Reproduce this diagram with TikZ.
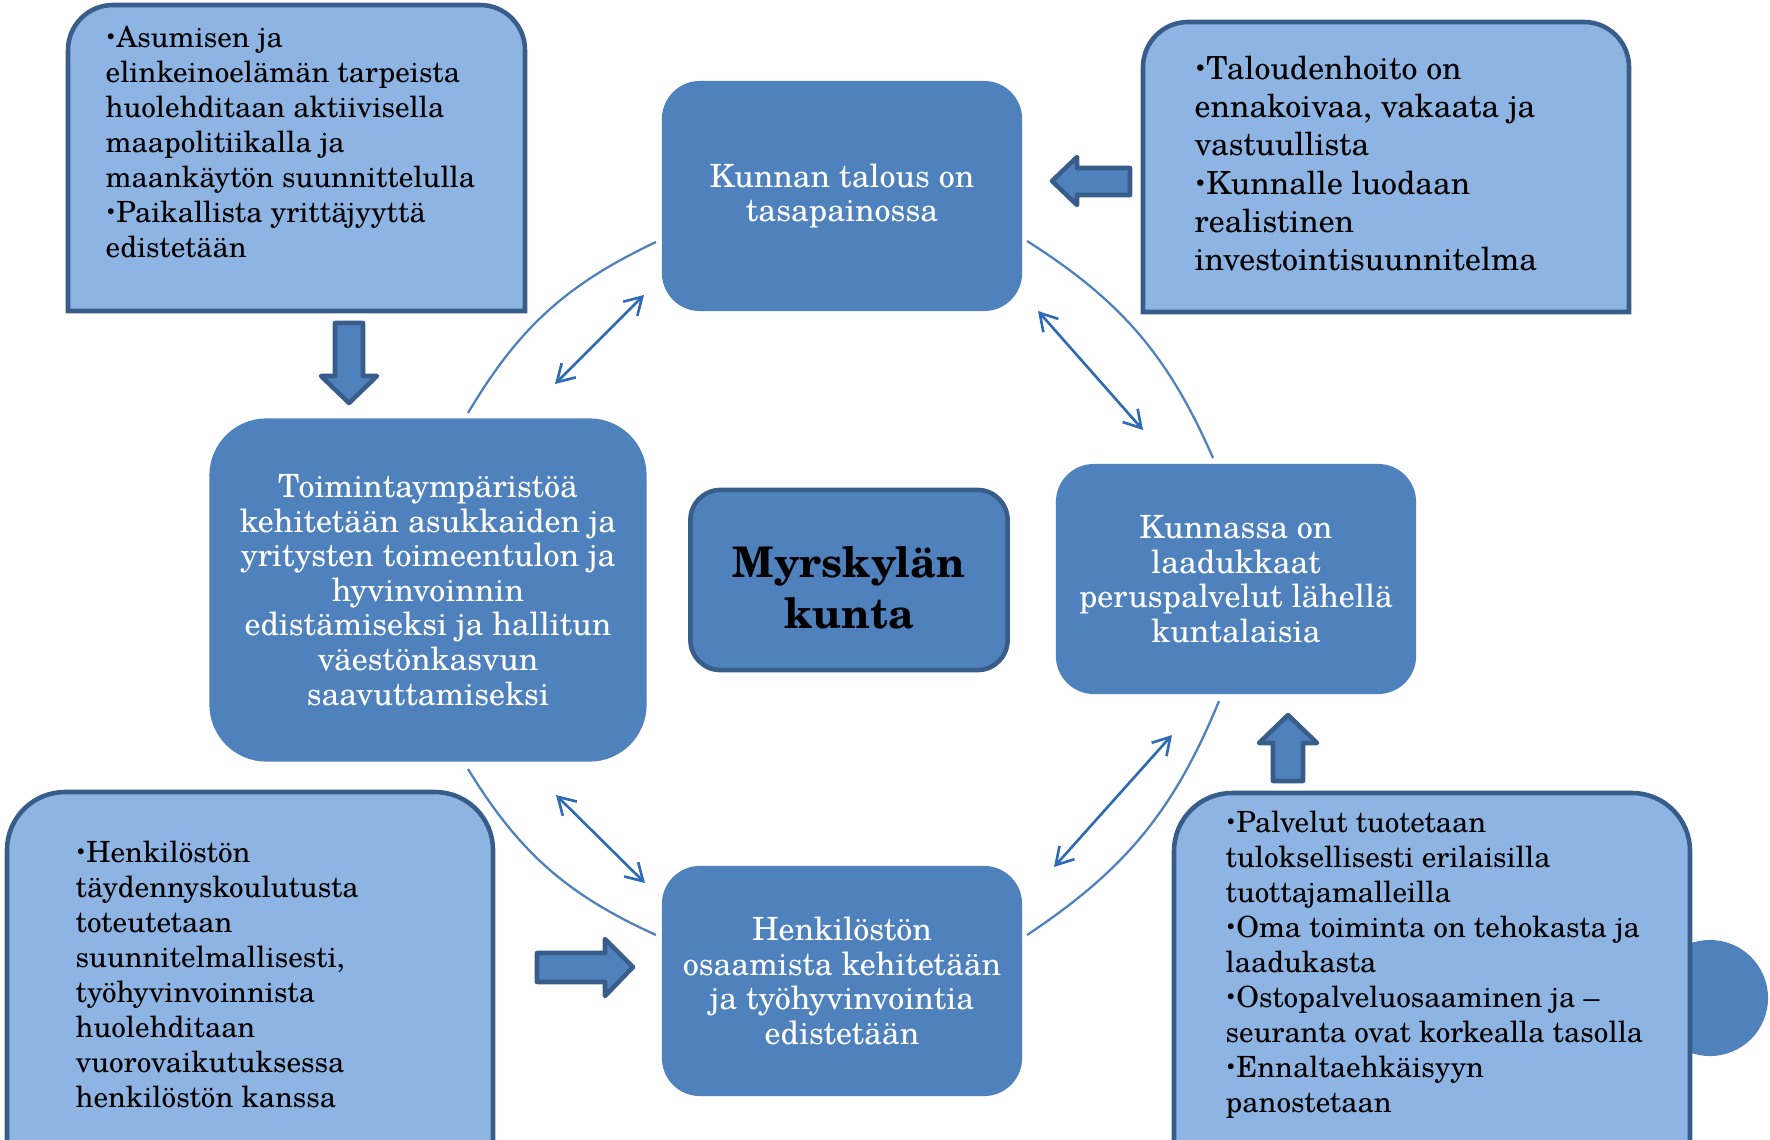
\documentclass[tikz,border=0pt]{standalone}
\usepackage{fontspec}
\usepackage{graphicx}
\setmainfont{texgyreschola}[Extension=.otf, UprightFont=*-regular, BoldFont=*-bold, ItalicFont=*-italic, BoldItalicFont=*-bolditalic]
\usetikzlibrary{arrows.meta}

\definecolor{stageblue}{HTML}{4F81BD}
\definecolor{noteblue}{HTML}{8DB4E2}
\definecolor{borderblue}{HTML}{385D8A}
\definecolor{linkblue}{HTML}{2F6BB5}

\newcommand{\itembullet}{\raisebox{0.12em}{\scalebox{0.6}{•}}}

\begin{document}
\begin{tikzpicture}[
    x=0.01cm, y=-0.01cm,
    stage/.style={
      rectangle,
      rounded corners=0.38cm,
      fill=stageblue,
      text=white,
      align=center,
      inner sep=0pt,
      minimum width=3.6cm,
      minimum height=2.3cm,
      font=\fontsize{9.1pt}{9.85pt}\selectfont
    },
    note/.style={
      anchor=north west,
      align=left,
      inner sep=0pt,
      font=\fontsize{8.3pt}{9.96pt}\selectfont
    },
    notebox/.style={fill=noteblue, draw=borderblue, line width=1.3pt},
    bigarrow/.style={fill=stageblue, draw=borderblue, line width=1.3pt, line join=round},
    cycleline/.style={draw=stageblue, line width=0.65pt},
    link/.style={draw=linkblue, line width=0.75pt, <->},
    >={Straight Barb[length=4.8pt,width=5.7pt]}
  ]

    \useasboundingbox (0,0) rectangle (1770,1139);
    \clip (0,0) rectangle (1770,1139);

    % Callout boxes
    \fill[stageblue] (1710,998) circle (0.58cm);
    \draw[notebox] (68,311) [rounded corners=0.45cm] -- (68,5) -- (525,5) [sharp corners] -- (525,311) -- cycle;
    \draw[notebox] (1143,312) [rounded corners=0.45cm] -- (1143,22) -- (1629,22) [sharp corners] -- (1629,312) -- cycle;
    \draw[notebox, rounded corners=0.58cm] (7,792) rectangle (493,1200);
    \draw[notebox, rounded corners=0.58cm] (1174,793) rectangle (1690,1200);

    \node[note] (nmaa) at (105,25) {\itembullet Asumisen ja\\elinkeinoelämän tarpeista\\huolehditaan aktiivisella\\maapolitiikalla ja\\maankäytön suunnittelulla\\\itembullet Paikallista yrittäjyyttä\\edistetään};
    \node[note, font=\fontsize{9.05pt}{10.9pt}\selectfont] (ntalous) at (1194,55) {\itembullet Taloudenhoito on\\ennakoivaa, vakaata ja\\vastuullista\\\itembullet Kunnalle luodaan\\realistinen\\investointisuunnitelma};
    \node[note] (nhenk) at (75,840) {\itembullet Henkilöstön\\täydennyskoulutusta\\toteutetaan\\suunnitelmallisesti,\\työhyvinvoinnista\\huolehditaan\\vuorovaikutuksessa\\henkilöstön kanssa};
    \node[note] (npalv) at (1225,810) {\itembullet Palvelut tuotetaan\\tuloksellisesti erilaisilla\\tuottajamalleilla\\\itembullet Oma toiminta on tehokasta ja\\laadukasta\\\itembullet Ostopalveluosaaminen ja –\\seuranta ovat korkealla tasolla\\\itembullet Ennaltaehkäisyyn\\panostetaan};

    % Block arrows
    \draw[bigarrow] (335,323) -- (363,323) -- (363,376) -- (377,376) -- (349,403) -- (321,376) -- (335,376) -- cycle;
    \draw[bigarrow] (1130,168) -- (1077,168) -- (1077,157) -- (1052,181) -- (1077,205) -- (1077,195) -- (1130,195) -- cycle;
    \draw[bigarrow] (1273,781) -- (1273,743) -- (1259,743) -- (1288,715) -- (1317,743) -- (1303,743) -- (1303,781) -- cycle;
    \draw[bigarrow] (537,953) -- (605,953) -- (605,939) -- (633,967) -- (605,996) -- (605,982) -- (537,982) -- cycle;

    % Cycle
    \node[stage] (talous) at (842,196) {Kunnan talous on\\tasapainossa};
    \node[stage, minimum width=4.37cm, minimum height=3.43cm, rounded corners=0.57cm] (ymparisto) at (428,590) {Toimintaympäristöä\\kehitetään asukkaiden ja\\yritysten toimeentulon ja\\hyvinvoinnin\\edistämiseksi ja hallitun\\väestönkasvun\\saavuttamiseksi};
    \node[stage] (palvelut) at (1236,579) {Kunnassa on\\laadukkaat\\peruspalvelut lähellä\\kuntalaisia};
    \node[stage] (osaaminen) at (842,981) {Henkilöstön\\osaamista kehitetään\\ja työhyvinvointia\\edistetään};
    \node[stage, draw=borderblue, line width=1.3pt, text=black, minimum width=3.17cm, minimum height=1.8cm, rounded corners=0.3cm, font=\bfseries\fontsize{12pt}{14.5pt}\selectfont] (kunta) at (849,580) {\rule{0pt}{13pt}Myrskylän\\kunta};

    % Arcs
    \coordinate (a1s) at (468,413);
    \coordinate (a1e) at (656,242);
    \coordinate (a2s) at (1027,241);
    \coordinate (a2e) at (1213,458);
    \coordinate (a3s) at (1219,701);
    \coordinate (a3e) at (1027,935);
    \coordinate (a4s) at (656,935);
    \coordinate (a4e) at (468,769);
    \draw[cycleline] (a1s) to[bend left=17] (a1e);
    \draw[cycleline] (a2s) to[bend left=17] (a2e);
    \draw[cycleline] (a3s) to[bend left=17] (a3e);
    \draw[cycleline] (a4s) to[bend left=17] (a4e);

    % Links
    \coordinate (l1s) at (555,384);
    \coordinate (l1e) at (644,295);
    \coordinate (l2s) at (1038,311);
    \coordinate (l2e) at (1143,430);
    \coordinate (l3s) at (1172,735);
    \coordinate (l3e) at (1054,867);
    \coordinate (l4s) at (556,795);
    \coordinate (l4e) at (645,883);
    \draw[link] (l1s) -- (l1e);
    \draw[link] (l2s) -- (l2e);
    \draw[link] (l3s) -- (l3e);
    \draw[link] (l4s) -- (l4e);

  \end{tikzpicture}
\end{document}
